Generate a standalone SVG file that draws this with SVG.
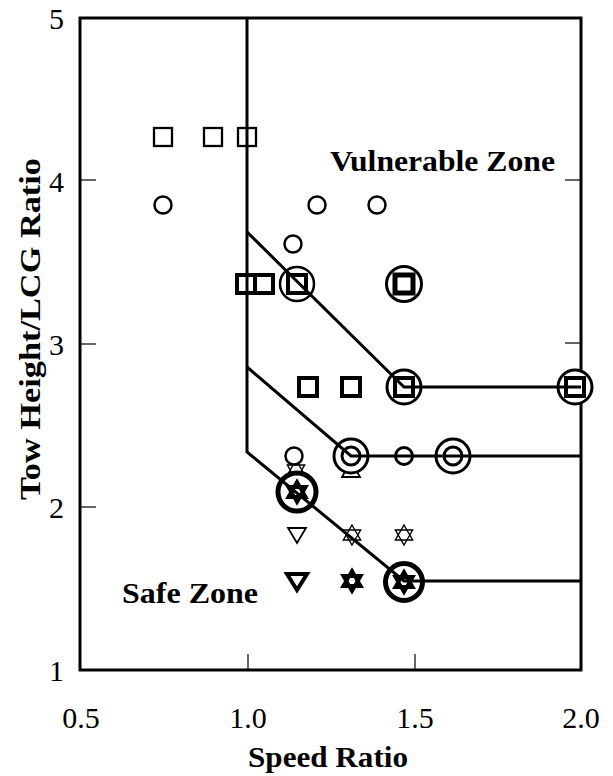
<svg xmlns="http://www.w3.org/2000/svg" xmlns:xlink="http://www.w3.org/1999/xlink" width="613" height="776" viewBox="0 0 613 776">
<style>
.frame{fill:none;stroke:#000;stroke-width:3}
.tick{stroke:#000;stroke-width:1.2}
.conn{fill:none;stroke:#000;stroke-width:3;stroke-linejoin:miter}
.sq{fill:#fff;stroke:#000;stroke-width:2.3}
.sqb{fill:#fff;stroke:#000;stroke-width:4}
.sqx{fill:#fff;stroke:#000;stroke-width:5}
.ci{fill:#fff;stroke:#000;stroke-width:2.5}
.cib{fill:#fff;stroke:#000;stroke-width:3}
.cix{fill:#fff;stroke:#000;stroke-width:5}
.st{fill:none;stroke:#000;stroke-width:1.4}
.stb{fill:none;stroke:#000;stroke-width:3.8;stroke-linejoin:miter}
.tr{fill:#fff;stroke:#000;stroke-width:1.8}
.trb{fill:#fff;stroke:#000;stroke-width:4}
.lbl{font-family:"Liberation Serif","Times New Roman",serif;font-size:30px;fill:#000}
.ttl{font-family:"Liberation Serif","Times New Roman",serif;font-size:30px;font-weight:bold;fill:#000}
.zone{font-family:"Liberation Serif","Times New Roman",serif;font-size:29px;font-weight:bold;fill:#000}
</style>
<defs>
<g id="star"><polygon points="0,-10 8.66,5 -8.66,5"/><polygon points="0,10 8.66,-5 -8.66,-5"/></g>
<g id="starb"><polygon points="0,-10 8.66,5 -8.66,5"/><polygon points="0,10 8.66,-5 -8.66,-5"/></g>
</defs>
<rect width="613" height="776" fill="#fff"/>

<g id="axes">
<rect class="frame" x="80" y="18" width="501" height="652"/>
<line class="tick" x1="80" y1="180" x2="96" y2="180"/>
<line class="tick" x1="80" y1="344" x2="96" y2="344"/>
<line class="tick" x1="80" y1="507" x2="96" y2="507"/>
<line class="tick" x1="565" y1="180" x2="581" y2="180"/>
<line class="tick" x1="565" y1="343" x2="581" y2="343"/>
<line class="tick" x1="248" y1="670" x2="248" y2="654"/>
<line class="tick" x1="415" y1="670" x2="415" y2="654"/>
<text class="lbl" x="64" y="29" text-anchor="end">5</text>
<text class="lbl" x="64" y="192" text-anchor="end">4</text>
<text class="lbl" x="64" y="355" text-anchor="end">3</text>
<text class="lbl" x="64" y="518" text-anchor="end">2</text>
<text class="lbl" x="64" y="681" text-anchor="end">1</text>
<text class="lbl" x="81" y="728" text-anchor="middle">0.5</text>
<text class="lbl" x="248" y="728" text-anchor="middle">1.0</text>
<text class="lbl" x="415" y="728" text-anchor="middle">1.5</text>
<text class="lbl" x="581" y="728" text-anchor="middle">2.0</text>
<text class="ttl" x="328" y="767" text-anchor="middle" textLength="160" lengthAdjust="spacingAndGlyphs">Speed Ratio</text>
<text class="ttl" transform="translate(40,329) rotate(-90)" x="0" y="0" text-anchor="middle" textLength="342" lengthAdjust="spacingAndGlyphs">Tow Height/LCG Ratio</text>
</g>

<g id="zone-labels">
<text class="zone" x="330" y="171" textLength="225" lengthAdjust="spacingAndGlyphs">Vulnerable Zone</text>
<text class="zone" x="122" y="603" textLength="136" lengthAdjust="spacingAndGlyphs">Safe Zone</text>
</g>

<g id="markers">
<rect class="sq" x="154" y="128" width="18" height="18"/>
<rect class="sq" x="204" y="128" width="18" height="18"/>
<rect class="sq" x="238" y="128" width="18" height="18"/>
<circle class="ci" cx="163" cy="205" r="8.5"/>
<circle class="ci" cx="317" cy="205" r="8.5"/>
<circle class="ci" cx="377" cy="205" r="8.5"/>
<circle class="ci" cx="293" cy="244" r="8.5"/>
<rect class="sqb" x="237" y="275" width="18" height="18"/>
<rect class="sqb" x="255" y="275" width="18" height="18"/>
<rect class="sqb" x="299" y="378" width="18" height="18"/>
<rect class="sqb" x="342" y="378" width="18" height="18"/>
<circle class="ci" cx="297" cy="284" r="17"/>
<rect class="sqb" x="288" y="275" width="18" height="18"/>
<circle class="cib" cx="404" cy="284" r="17.5" stroke-width="3.6"/>
<rect class="sqx" x="395" y="275" width="18" height="18"/>
<circle class="cib" cx="404" cy="387" r="17"/>
<rect class="sqb" x="395" y="378" width="18" height="18"/>
<circle class="cib" cx="575" cy="387" r="17"/>
<rect class="sqb" x="566" y="378" width="18" height="18"/>
<use xlink:href="#star" class="st" x="296" y="470"/>
<polygon class="tr" points="351,461 360,477 342,477"/>
<circle class="ci" cx="294" cy="456" r="8.5"/>
<circle class="cib" cx="351" cy="456" r="17"/>
<circle class="cib" cx="351" cy="456" r="9"/>
<circle class="cib" cx="404" cy="456" r="8.5"/>
<circle class="cib" cx="453" cy="456" r="17"/>
<circle class="cib" cx="453" cy="456" r="9"/>
<circle class="cix" cx="297" cy="492" r="19"/>
<use xlink:href="#starb" class="stb" x="297" y="492"/>
<polygon class="tr" points="288,528 306,528 297,543"/>
<use xlink:href="#star" class="st" x="352" y="535"/>
<use xlink:href="#star" class="st" x="404" y="535"/>
<polygon class="trb" points="287,574 307,574 297,590"/>
<use xlink:href="#starb" class="stb" x="352" y="581"/>
<circle class="cix" cx="404" cy="582" r="18.5"/>
<use xlink:href="#starb" class="stb" x="404" y="582"/>
</g>

<g id="connectors">
<polyline class="conn" points="247,18 247,452 404,581 581,581"/>
<polyline class="conn" points="247,232 404,387 581,387"/>
<polyline class="conn" points="247,367 351,456 581,456"/>
</g>
</svg>
